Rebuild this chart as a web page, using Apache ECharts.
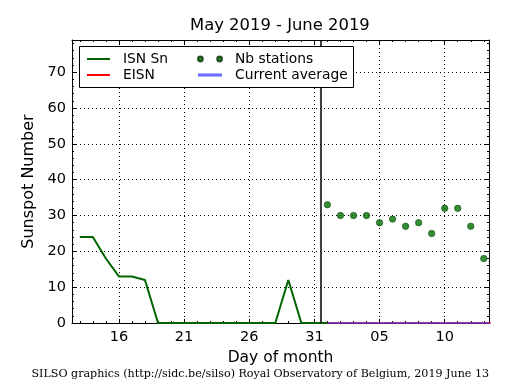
<!DOCTYPE html>
<html><head><meta charset="utf-8">
<script src="https://cdn.jsdelivr.net/npm/echarts@6/dist/echarts.min.js"></script>
<style>html,body{margin:0;padding:0;background:#fff}#c{width:515px;height:390px}</style>
</head><body><div id="c"></div>
<script>
// ---- data (x = day counted from May 1st; 32 = June 1st) ----
const isnDays = [13,14,15,16,17,18,19,20,21,22,23,24,25,26,27,28,29,30,31,32];
const isnValues = [24,24,18,13,13,12,0,0,0,0,0,0,0,0,0,0,12,0,0,0];
const stationDays = [32,33,34,35,36,37,38,39,40,41,42,43,44];
const stationValues = [33,30,30,30,28,29,27,28,25,32,32,27,18];
const eisnDays = [32,33,34,35,36,37,38,39,40,41,42,43,44,45];
const eisnValues = [0,0,0,0,0,0,0,0,0,0,0,0,0,0];
const avgDays = [32,33,34,35,36,37,38,39,40,41,42,43,44,45];
const avgValues = [0,0,0,0,0,0,0,0,0,0,0,0,0,0];
const xTickValues = [16,21,26,31,36,41];
const xTickLabels = ['16','21','26','31','05','10'];
const yTickValues = [0,10,20,30,40,50,60,70];
const monthBoundary = 31.5;

const F = 'DejaVu Sans';
const xMin = 12.4, xMax = 44.4, yMin = 0, yMax = 79;
const minorX = []; for (let d = 13; d <= 44; d++) minorX.push(d);
const minorY = []; for (let v = 2; v < 79; v += 2) minorY.push(v);

const pair = (xs, ys) => xs.map((x, i) => [x, ys[i]]);
const black = '#000';

function xAx(pos, ticks, len, main) {
  return {
    type: 'value', min: xMin, max: xMax, position: pos,
    axisLine: { show: !!main, onZero: false, lineStyle: { color: black, width: 1 } },
    axisTick: { show: true, inside: true, length: len, customValues: ticks, lineStyle: { color: black, width: 1 } },
    axisLabel: main === 2 ? {
      show: true, customValues: xTickValues, color: black, fontFamily: F, fontSize: 14.5, margin: 7,
      formatter: v => xTickLabels[xTickValues.indexOf(v)]
    } : { show: false },
    splitLine: main === 2 ? { show: true, lineStyle: { color: black, width: 1, type: [1, 3] } } : { show: false },
    name: main === 2 ? 'Day of month' : '',
    nameLocation: 'middle', nameGap: 26,
    nameTextStyle: { fontFamily: F, fontSize: 15.5, color: black }
  };
}
function yAx(pos, ticks, len, main) {
  return {
    type: 'value', min: yMin, max: yMax, position: pos,
    axisLine: { show: !!main, onZero: false, lineStyle: { color: black, width: 1 } },
    axisTick: { show: true, inside: true, length: len, customValues: ticks, lineStyle: { color: black, width: 1 } },
    axisLabel: main === 2 ? { show: true, customValues: yTickValues, color: black, fontFamily: F, fontSize: 14.5, margin: 6 } : { show: false },
    splitLine: main === 2 ? { show: true, lineStyle: { color: black, width: 1, type: [1, 3] } } : { show: false },
    name: main === 2 ? 'Sunspot Number' : '',
    nameLocation: 'middle', nameGap: 31,
    nameTextStyle: { fontFamily: F, fontSize: 16, color: black }
  };
}

const lineIcon2 = 'path://M0,0H23V2H0Z';
const lineIcon3 = 'path://M0,0H23V3H0Z';
const dotsIcon = 'path://M0,2.5a2.5,2.5 0 1,0 5,0a2.5,2.5 0 1,0 -5,0ZM20,2.5a2.5,2.5 0 1,0 5,0a2.5,2.5 0 1,0 -5,0Z';
const legendText = { fontFamily: F, fontSize: 13.8, color: black, padding: [0, 0, 0, 8] };

const option = {
  animation: false,
  backgroundColor: '#fff',
  grid: { left: 72, right: 26, top: 40, bottom: 67, containLabel: false },
  title: [
    { text: 'May 2019 - June 2019', left: 190, top: 18, padding: 0,
      textStyle: { fontFamily: F, fontSize: 16.4, fontWeight: 'normal', color: black } },
    { text: 'SILSO graphics (http://sidc.be/silso) Royal Observatory of Belgium, 2019 June 13',
      right: 26, top: 369, padding: 0,
      textStyle: { fontFamily: 'DejaVu Serif', fontSize: 11.1, fontWeight: 'normal', color: black } }
  ],
  graphic: [
    { type: 'rect', z: 10, shape: { x: 79.5, y: 46.5, width: 274, height: 41 },
      style: { fill: '#fff', stroke: black, lineWidth: 1 } }
  ],
  legend: [
    { z: 20, left: 87, top: 52, orient: 'vertical', itemGap: 2, itemWidth: 23, itemHeight: 6, padding: 0,
      selectedMode: false, textStyle: legendText,
      data: [{ name: 'ISN Sn', icon: lineIcon2 }, { name: 'EISN', icon: lineIcon2 }] },
    { z: 20, left: 197, top: 52, orient: 'vertical', itemGap: 2, itemWidth: 24, itemHeight: 6, padding: 0,
      selectedMode: false, textStyle: legendText,
      data: [{ name: 'Nb stations', icon: dotsIcon }, { name: 'Current average', icon: lineIcon3 }] }
  ],
  xAxis: [
    xAx('bottom', xTickValues, 4, 2),
    xAx('top', xTickValues, 4, 1),
    xAx('bottom', minorX, 2, 0),
    xAx('top', minorX, 2, 0)
  ],
  yAxis: [
    yAx('left', yTickValues, 4, 2),
    yAx('right', yTickValues, 4, 1),
    yAx('left', minorY, 2, 0),
    yAx('right', minorY, 2, 0)
  ],
  series: [
    { name: 'ISN Sn', type: 'line', xAxisIndex: 0, yAxisIndex: 0, data: pair(isnDays, isnValues),
      showSymbol: false, clip: true, z: 3,
      itemStyle: { color: '#006400' }, lineStyle: { color: '#006400', width: 2 },
      markLine: { silent: true, symbol: 'none', label: { show: false },
        lineStyle: { color: black, width: 1.5, type: 'solid' }, data: [{ xAxis: monthBoundary }] } },
    { name: 'EISN', type: 'line', xAxisIndex: 0, yAxisIndex: 0, data: pair(eisnDays, eisnValues),
      showSymbol: false, clip: true, z: 4,
      itemStyle: { color: '#ff0000' }, lineStyle: { color: '#ff0000', width: 1.5 } },
    { name: 'Nb stations', type: 'scatter', xAxisIndex: 0, yAxisIndex: 0, data: pair(stationDays, stationValues),
      symbol: 'circle', symbolSize: 6.5, z: 5,
      itemStyle: { color: '#007000', borderColor: '#003000', borderWidth: 0.6 } },
    { name: 'Current average', type: 'line', xAxisIndex: 0, yAxisIndex: 0, data: pair(avgDays, avgValues),
      showSymbol: false, clip: true, z: 4,
      itemStyle: { color: '#6f6fff' }, lineStyle: { color: '#4040ff', width: 2, opacity: 0.55 } }
  ]
};
echarts.init(document.getElementById('c'), null, { renderer: 'canvas' }).setOption(option);
</script></body></html>
